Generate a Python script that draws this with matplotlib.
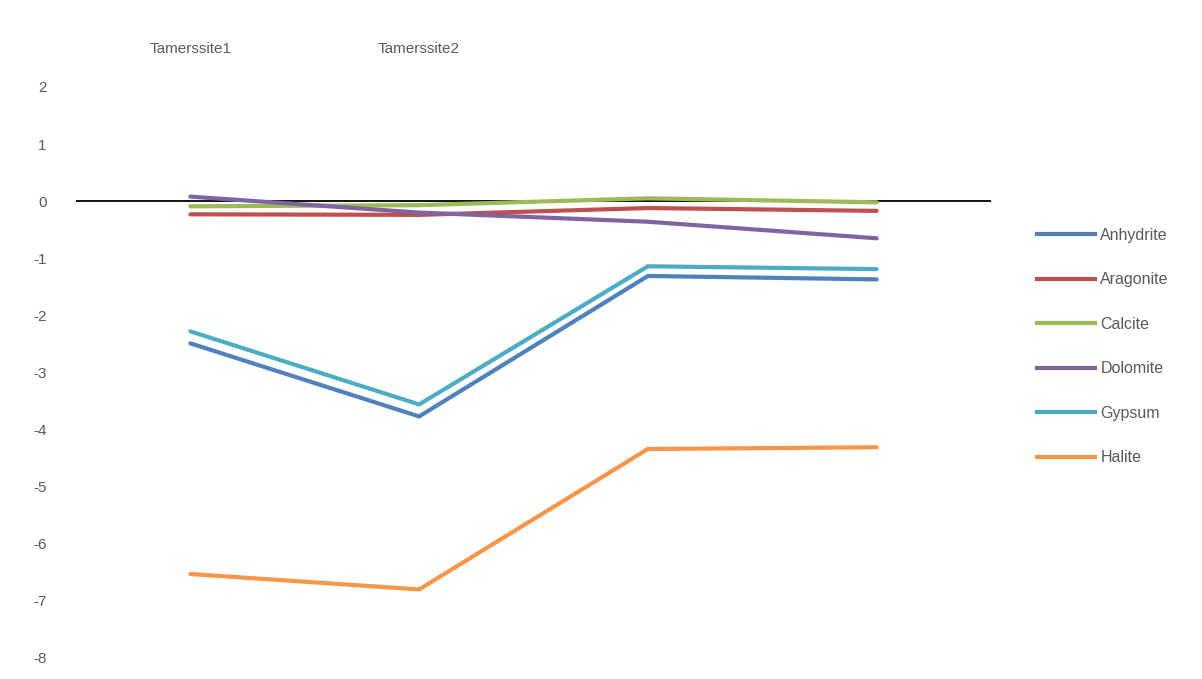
import numpy as np
import matplotlib
matplotlib.use('Agg')
import matplotlib.pyplot as plt
from matplotlib.lines import Line2D

plt.rcParams['font.family'] = ['Liberation Sans', 'DejaVu Sans']
plt.rcParams['axes.unicode_minus'] = False

# category labels (only the first two carry a name)
sites = ['Tamerssite1', 'Tamerssite2', '', '']

# saturation indices
anhydrite = [-2.49, -3.77, -1.31, -1.37]
aragonite = [-0.23, -0.24, -0.12, -0.17]
calcite = [-0.09, -0.07, 0.05, -0.02]
dolomite = [0.08, -0.20, -0.36, -0.65]
gypsum = [-2.28, -3.56, -1.14, -1.19]
halite = [-6.53, -6.80, -4.34, -4.31]

names = ['Anhydrite', 'Aragonite', 'Calcite', 'Dolomite', 'Gypsum', 'Halite']
series = [anhydrite, aragonite, calcite, dolomite, gypsum, halite]
colors = ['#4F81BD', '#C0504D', '#9BBB59', '#8064A2', '#4BACC6', '#F79646']

fig = plt.figure(figsize=(12.02, 6.79), dpi=100)
ax = fig.add_axes([0.0632, 0.0310, 0.7613, 0.8409])

x = np.arange(len(sites))
ax.axhline(0, color='black', lw=1.3, zorder=1)
for vals, c, n in zip(series, colors, names):
    ax.plot(x, vals, color=c, lw=3.0, label=n, solid_capstyle='round',
            solid_joinstyle='miter', zorder=2)

ax.set_xlim(-0.5, len(sites) - 0.5)
ax.set_ylim(-8, 2)
ax.set_yticks(range(-8, 3))
ax.tick_params(axis='y', length=0, pad=21, labelsize=11, labelcolor='#595959')

# category labels sit above the plot
ax.set_xticks(x)
ax.set_xticklabels(sites)
ax.xaxis.tick_top()
ax.tick_params(axis='x', length=0, pad=22, labelsize=11, labelcolor='#595959')

for s in ax.spines.values():
    s.set_visible(False)

handles = [Line2D([], [], color=c, lw=3.0) for c in colors]
fig.legend(handles, names, loc='upper left', bbox_to_anchor=(0.851, 0.686),
           frameon=False, fontsize=11.5, handlelength=3.6, handletextpad=0.35,
           labelspacing=1.85, labelcolor='#595959')

fig.savefig('out.png', dpi=100)
